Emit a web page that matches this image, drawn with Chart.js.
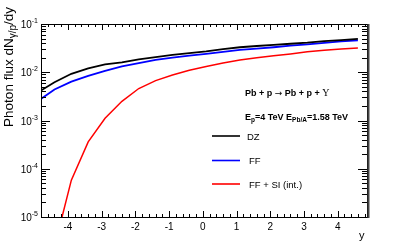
<!DOCTYPE html>
<html>
<head>
<meta charset="utf-8">
<script src="https://cdn.jsdelivr.net/npm/chart.js@4.4.1/dist/chart.umd.min.js"></script>
<style>
  html, body { margin: 0; padding: 0; background: #fff; }
  canvas { display: block; }
</style>
</head>
<body>
<canvas id="c" width="409" height="242"></canvas>
<script>
// Data
const rapidity = [-4.9, -4.4, -3.9, -3.4, -2.9, -2.4, -1.9, -1.4, -0.9, -0.4,
                  0.1, 0.6, 1.1, 1.6, 2.1, 2.6, 3.1, 3.6, 4.1, 4.6];
const fluxDZ = [3.8e-3, 6.2e-3, 9.3e-3, 1.2e-2, 1.45e-2, 1.6e-2, 1.85e-2, 2.05e-2, 2.3e-2, 2.5e-2,
                2.7e-2, 3.0e-2, 3.3e-2, 3.5e-2, 3.7e-2, 3.9e-2, 4.1e-2, 4.4e-2, 4.65e-2, 4.9e-2];
const fluxFF = [2.5e-3, 4.4e-3, 6.4e-3, 8.4e-3, 1.07e-2, 1.32e-2, 1.55e-2, 1.8e-2, 2.0e-2, 2.2e-2,
                2.4e-2, 2.65e-2, 2.9e-2, 3.1e-2, 3.3e-2, 3.55e-2, 3.8e-2, 4.05e-2, 4.35e-2, 4.6e-2];
const fluxFFSI = [1.0e-6, 2.4e-6, 5.8e-5, 3.6e-4, 1.11e-3, 2.5e-3, 4.6e-3, 6.7e-3, 8.8e-3, 1.1e-2,
                  1.32e-2, 1.55e-2, 1.8e-2, 2.0e-2, 2.2e-2, 2.4e-2, 2.65e-2, 2.85e-2, 3.05e-2, 3.2e-2];

const xTicks = [-4, -3, -2, -1, 0, 1, 2, 3, 4];
const yDecades = [-5, -4, -3, -2, -1];
const legendLabels = ['DZ', 'FF', 'FF + SI (int.)'];

const FONT = "'Liberation Sans', Arial, sans-serif";

// draw a run of text pieces (sub/superscripts), returns end position
function richText(ctx, x, y, parts) {
  let cx = x;
  parts.forEach(p => {
    ctx.font = (p.bold ? 'bold ' : '') + p.size + 'px ' + (p.family || FONT);
    ctx.fillText(p.t, cx, y + (p.dy || 0));
    cx += ctx.measureText(p.t).width;
  });
  return cx;
}
function richWidth(ctx, parts) {
  let w = 0;
  parts.forEach(p => {
    ctx.font = (p.bold ? 'bold ' : '') + p.size + 'px ' + (p.family || FONT);
    w += ctx.measureText(p.t).width;
  });
  return w;
}

const rootFrame = {
  id: 'rootFrame',
  afterDraw(chart) {
    const ctx = chart.ctx;
    const a = chart.chartArea;
    const xs = chart.scales.x, ys = chart.scales.y;
    ctx.save();
    ctx.strokeStyle = '#000';
    ctx.fillStyle = '#000';
    ctx.lineWidth = 1;

    // frame
    ctx.strokeRect(a.left + 0.5, a.top + 0.5, a.right - a.left, a.bottom - a.top);
    ctx.strokeStyle = '#444';
    ctx.lineWidth = 2;
    ctx.beginPath();
    ctx.moveTo(a.right + 1.5, a.top);
    ctx.lineTo(a.right + 1.5, a.bottom + 1);
    ctx.stroke();
    ctx.strokeStyle = '#000';
    ctx.lineWidth = 1;

    // x ticks (major + minor every 0.2)
    ctx.beginPath();
    for (let v = -5; v <= 5.001; v += 0.2) {
      const vv = Math.round(v * 10) / 10;
      if (vv < xs.min || vv > xs.max) continue;
      const px = Math.round(xs.getPixelForValue(vv)) + 0.5;
      const major = Math.abs(vv - Math.round(vv)) < 1e-6;
      const len = major ? 6 : 3;
      ctx.moveTo(px, a.bottom); ctx.lineTo(px, a.bottom - len);
      ctx.moveTo(px, a.top); ctx.lineTo(px, a.top + len);
    }
    // y ticks (decades + 2..9)
    for (let d = -6; d <= -1; d++) {
      for (let m = 1; m <= 9; m++) {
        const val = m * Math.pow(10, d);
        if (val < ys.min * 0.999 || val > ys.max * 1.001) continue;
        const py = Math.round(ys.getPixelForValue(val)) + 0.5;
        const len = m === 1 ? 9 : 5;
        ctx.moveTo(a.left, py); ctx.lineTo(a.left + len, py);
        ctx.moveTo(a.right, py); ctx.lineTo(a.right - len, py);
      }
    }
    ctx.stroke();

    // x labels
    ctx.textBaseline = 'alphabetic';
    ctx.textAlign = 'center';
    ctx.font = '10px ' + FONT;
    xTicks.forEach(v => {
      ctx.fillText(String(v), xs.getPixelForValue(v), a.bottom + 13);
    });

    // y labels 10^n
    ctx.textAlign = 'left';
    yDecades.forEach(d => {
      const py = ys.getPixelForValue(Math.pow(10, d));
      const parts = [{t: '10', size: 10}, {t: String(d), size: 7, dy: -5}];
      const w = richWidth(ctx, parts);
      richText(ctx, a.left - 3 - w, py + 4, parts);
    });

    // axis titles
    ctx.font = '11px ' + FONT;
    ctx.fillText('y', 359, 239);

    ctx.save();
    ctx.translate(12.5, 7);
    ctx.rotate(-Math.PI / 2);
    const yTitle = [
      {t: 'Photon flux dN', size: 13.5},
      {t: 'γ/p', size: 10, dy: 3},
      {t: '/dy', size: 13.5}
    ];
    const tw = richWidth(ctx, yTitle);
    richText(ctx, -tw, 0, yTitle);
    ctx.restore();

    // annotations
    richText(ctx, 245, 96, [
      {t: 'Pb + p ', size: 9, bold: true},
      {t: '→', size: 9, family: "'DejaVu Sans', sans-serif"},
      {t: ' Pb + p + ', size: 9, bold: true},
      {t: 'Υ', size: 10, family: "'Liberation Serif', serif"}
    ]);
    richText(ctx, 245, 120, [
      {t: 'E', size: 9, bold: true},
      {t: 'p', size: 6.5, bold: true, dy: 2},
      {t: '=4 TeV E', size: 9, bold: true},
      {t: 'Pb/A', size: 6.5, bold: true, dy: 2},
      {t: '=1.58 TeV', size: 9, bold: true}
    ]);

    // legend
    const colors = ['#000000', '#0000ff', '#ff0000'];
    const rows = [136, 160.5, 184];
    const textX = [247, 249, 249];
    legendLabels.forEach((lab, i) => {
      ctx.strokeStyle = colors[i];
      ctx.lineWidth = 1.6;
      ctx.beginPath();
      ctx.moveTo(212, rows[i]); ctx.lineTo(240, rows[i]);
      ctx.stroke();
      ctx.font = '9.5px ' + FONT;
      ctx.fillStyle = '#000';
      ctx.fillText(lab, textX[i], rows[i] + 3.5);
    });
    ctx.restore();
  }
};

const toPts = arr => rapidity.map((x, i) => ({x: x, y: arr[i]}));

new Chart(document.getElementById('c'), {
  type: 'line',
  data: {
    datasets: [
      {label: legendLabels[0], data: toPts(fluxDZ), borderColor: '#000000', borderWidth: 1.8, pointRadius: 0, tension: 0},
      {label: legendLabels[1], data: toPts(fluxFF), borderColor: '#0000ff', borderWidth: 1.8, pointRadius: 0, tension: 0},
      {label: legendLabels[2], data: toPts(fluxFFSI), borderColor: '#ff0000', borderWidth: 1.5, pointRadius: 0, tension: 0}
    ]
  },
  options: {
    responsive: false,
    animation: false,
    devicePixelRatio: 1,
    layout: { padding: { left: 41, right: 42, top: 24, bottom: 25 } },
    plugins: { legend: { display: false }, tooltip: { enabled: false } },
    scales: {
      x: { type: 'linear', min: -4.8, max: 4.87, display: false },
      y: { type: 'logarithmic', min: 1e-5, max: 1e-1, display: false }
    }
  },
  plugins: [rootFrame]
});
</script>
</body>
</html>
